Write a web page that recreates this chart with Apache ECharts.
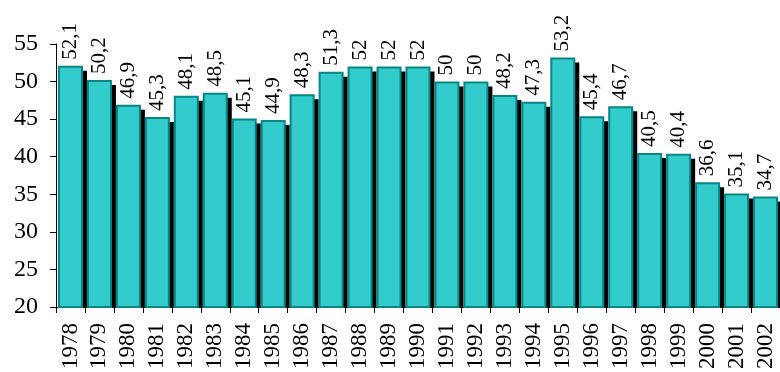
<!DOCTYPE html>
<html><head><meta charset="utf-8">
<script src="https://cdn.jsdelivr.net/npm/echarts@6/dist/echarts.min.js"></script>
<style>html,body{margin:0;padding:0;background:#fff}#c{width:780px;height:372px}</style>
</head><body><div id="c"></div>
<script>
var years = ['1978','1979','1980','1981','1982','1983','1984','1985','1986','1987','1988','1989','1990','1991','1992','1993','1994','1995','1996','1997','1998','1999','2000','2001','2002'];
var values = [52.1,50.2,46.9,45.3,48.1,48.5,45.1,44.9,48.3,51.3,52,52,52,50,50,48.2,47.3,53.2,45.4,46.7,40.5,40.4,36.6,35.1,34.7];
var yTicks = [20,25,30,35,40,45,50,55];

var chart = echarts.init(document.getElementById('c'), null, {renderer:'canvas'});
var font = 'Liberation Serif';
var BW = 25, SX = 4, SY = 5;
chart.setOption({
  animation:false,
  backgroundColor:'#fff',
  grid:{left:56, top:44, width:731, height:268, containLabel:false},
  xAxis:{
    type:'category', data:years,
    axisLine:{lineStyle:{color:'#000', width:1}},
    axisTick:{show:true, length:6, lineStyle:{color:'#000'}},
    axisLabel:{rotate:90, interval:0, margin:16, color:'#000', fontFamily:font, fontSize:23}
  },
  yAxis:{
    type:'value', min:yTicks[0], max:yTicks[yTicks.length-1], interval:5,
    splitLine:{show:false},
    axisLine:{show:true, lineStyle:{color:'#000', width:1}},
    axisTick:{show:true, length:6, lineStyle:{color:'#000'}},
    axisLabel:{color:'#000', fontFamily:font, fontSize:24, margin:18}
  },
  series:[{
    type:'custom', z:1, silent:true,
    data: values.map(function(v,i){return [i,v];}),
    encode:{x:0, y:1},
    renderItem:function(params, api){
      var top = api.coord([api.value(0), api.value(1)]);
      var base = api.coord([api.value(0), yTicks[0]]);
      return {type:'rect', shape:{x:top[0]-BW/2+SX, y:top[1]+SY, width:BW, height:base[1]-top[1]-SY},
        style:{fill:'#000'}};
    }
  },{
    type:'bar', z:2, data:values, barWidth:BW,
    itemStyle:{color:'#33CCCC', borderColor:'#0A8484', borderWidth:2},
    label:{show:true, position:'top', rotate:90, align:'left', verticalAlign:'middle', distance:6,
      color:'#000', fontFamily:font, fontSize:21,
      formatter:function(p){return String(p.value).replace('.', ',');}}
  }]
});
</script></body></html>
